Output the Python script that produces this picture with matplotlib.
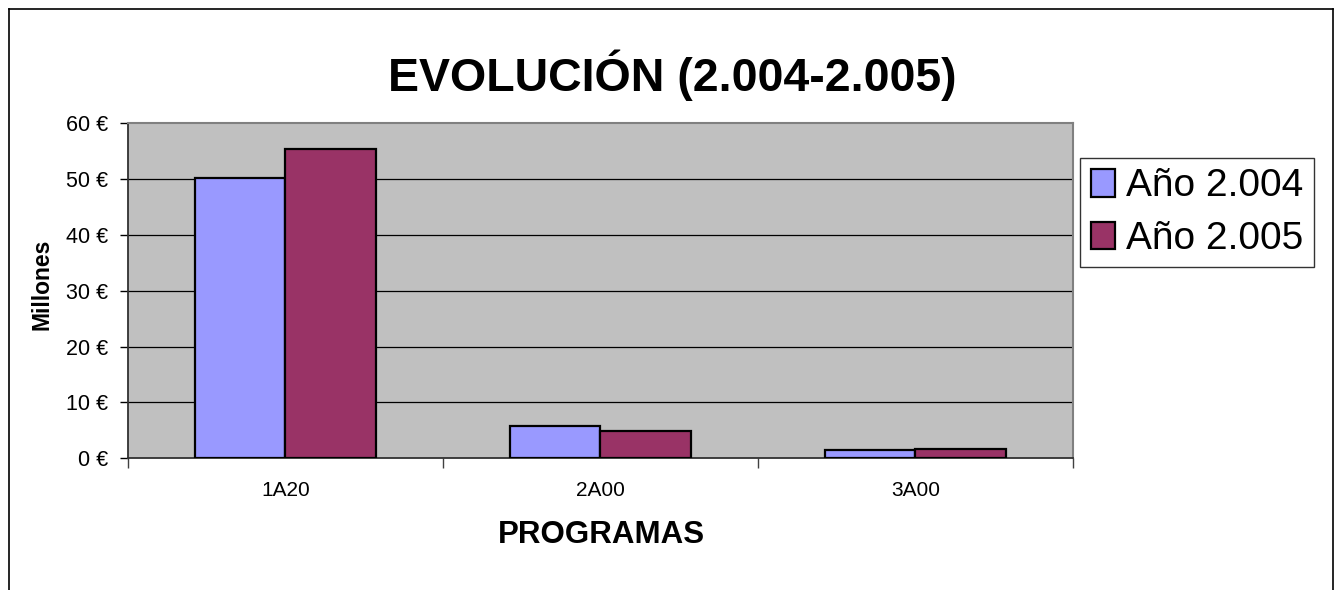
import matplotlib
matplotlib.use("Agg")
import matplotlib.pyplot as plt
from matplotlib.lines import Line2D
import numpy as np

plt.rcParams['font.family'] = ['Liberation Sans', 'DejaVu Sans']

categories = ["1A20", "2A00", "3A00"]
series_names = ["Año 2.004", "Año 2.005"]
values_2004 = [50.1, 5.8, 1.5]
values_2005 = [55.3, 4.8, 1.7]
ytick_values = [0, 10, 20, 30, 40, 50, 60]
ytick_labels = ["0 €", "10 €", "20 €", "30 €", "40 €", "50 €", "60 €"]
colors = ["#9999FF", "#993366"]

W, H = 1334, 590
fig = plt.figure(figsize=(W / 100, H / 100), dpi=100)
fig.patch.set_facecolor("white")

ax = fig.add_axes([128 / W, 1 - 458.3 / H, (1073 - 128) / W, (458.3 - 123) / H])
ax.set_facecolor("#C0C0C0")

x = np.arange(len(categories))
bw = 0.286
ax.bar(x - bw / 2, values_2004, bw, color=colors[0], edgecolor="black",
       linewidth=1.6, label=series_names[0], zorder=3)
ax.bar(x + bw / 2, values_2005, bw, color=colors[1], edgecolor="black",
       linewidth=1.6, label=series_names[1], zorder=3)

ax.set_xlim(-0.5, len(categories) - 0.5)
ax.set_ylim(0, 60)

ax.set_yticks(ytick_values)
ax.set_yticklabels(ytick_labels, fontsize=15.5)
ax.tick_params(axis="y", length=6, width=1, color="black", pad=8, direction="out")

ax.set_xticks(x)
ax.set_xticklabels(categories, fontsize=15)
ax.tick_params(axis="x", which="major", length=0, pad=16)
ax.set_xticks(np.arange(-0.5, len(categories), 1.0), minor=True)
ax.tick_params(axis="x", which="minor", length=7, width=1, color="#404040", direction="out")

for yv in ytick_values[1:-1]:
    ax.axhline(yv, color="black", linewidth=0.9, zorder=1)

for s in ["top", "right"]:
    ax.spines[s].set_color("#808080")
    ax.spines[s].set_linewidth(1.5)
for s in ["left", "bottom"]:
    ax.spines[s].set_color("#303030")
    ax.spines[s].set_linewidth(1.3)

fig.text(42 / W, 1 - 284 / H, "Millones", fontsize=16.5, fontweight="bold",
         rotation=90, ha="center", va="center")

fig.text(672 / W, 1 - 75 / H, "EVOLUCIÓN (2.004-2.005)", fontsize=33.5,
         fontweight="bold", ha="center", va="center")
fig.text(601 / W, 1 - 535 / H, "PROGRAMAS", fontsize=22.5,
         fontweight="bold", ha="center", va="center")

leg = fig.legend(loc="upper left", bbox_to_anchor=(1080 / W, 1 - 158 / H),
                 fontsize=28, frameon=True, fancybox=False, edgecolor="black",
                 handlelength=0.62, handleheight=0.7, handletextpad=0.3,
                 borderpad=0.27, labelspacing=0.42, borderaxespad=0)
leg.get_frame().set_linewidth(1.0)
for h in leg.legend_handles:
    h.set_linewidth(1.6)

# outer chart frame
fig.add_artist(Line2D([8.5 / W, 8.5 / W], [0, 1 - 8.5 / H], transform=fig.transFigure,
                      color="black", linewidth=1.2))
fig.add_artist(Line2D([8.5 / W, 1332.5 / W], [1 - 8.5 / H, 1 - 8.5 / H],
                      transform=fig.transFigure, color="black", linewidth=1.2))
fig.add_artist(Line2D([1332.5 / W, 1332.5 / W], [0, 1 - 8.5 / H], transform=fig.transFigure,
                      color="black", linewidth=1.2))

fig.savefig("out.png", dpi=100, facecolor="white")
